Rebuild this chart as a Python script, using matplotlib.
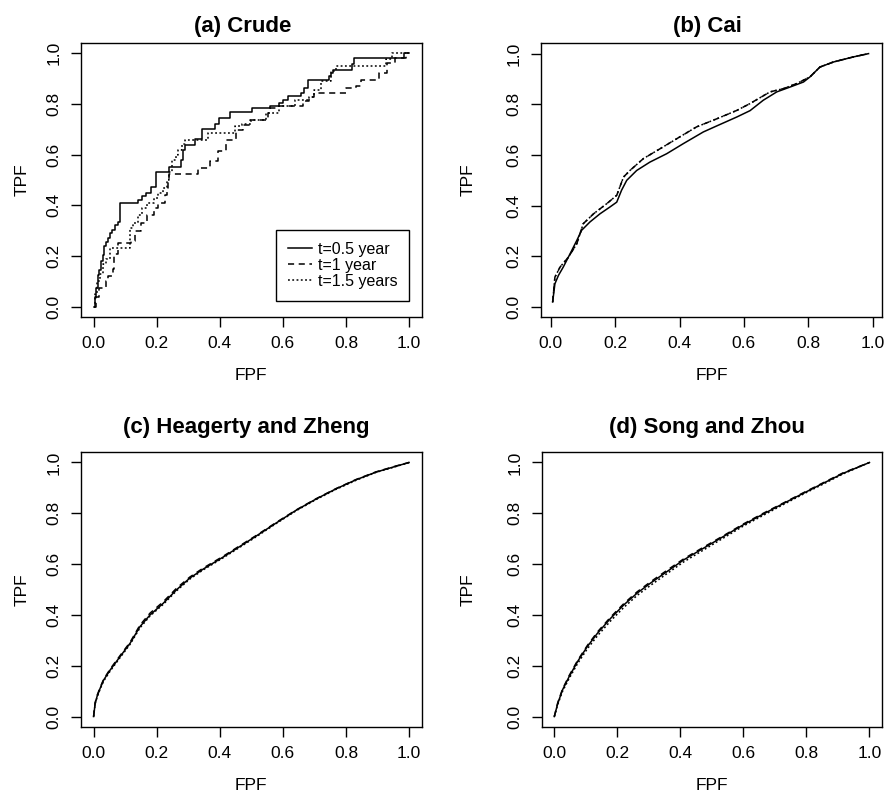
import matplotlib
matplotlib.use('Agg')
import matplotlib.pyplot as plt

plt.rcParams['font.family'] = ['Liberation Sans', 'DejaVu Sans']

# ---- data ----
tick_vals = [0.0, 0.2, 0.4, 0.6, 0.8, 1.0]
tick_labels = ['0.0', '0.2', '0.4', '0.6', '0.8', '1.0']
legend_labels = ['t=0.5 year', 't=1 year', 't=1.5 years']
titles = ['(a) Crude', '(b) Cai', '(c) Heagerty and Zheng', '(d) Song and Zhou']

# (a) crude step ROC curves: (FPF at jump, TPF after jump)
crude_t05_fpf = [0, 0.004, 0.008, 0.013, 0.018, 0.023, 0.029, 0.034, 0.040, 0.046, 0.052, 0.058,
                 0.068, 0.078, 0.083, 0.141, 0.152, 0.167, 0.183, 0.199, 0.240, 0.276, 0.282,
                 0.285, 0.290, 0.321, 0.344, 0.386, 0.398, 0.432, 0.503, 0.558, 0.589, 0.600,
                 0.616, 0.658, 0.668, 0.681, 0.747, 0.752, 0.758, 0.818, 0.827, 0.984, 1.0]
crude_t05_tpf = [0, 0.040, 0.074, 0.126, 0.146, 0.179, 0.205, 0.238, 0.257, 0.271, 0.290, 0.304,
                 0.323, 0.336, 0.409, 0.422, 0.435, 0.450, 0.471, 0.533, 0.553, 0.579, 0.600,
                 0.619, 0.639, 0.660, 0.699, 0.721, 0.745, 0.769, 0.784, 0.791, 0.804, 0.815,
                 0.830, 0.844, 0.863, 0.896, 0.909, 0.922, 0.935, 0.958, 0.981, 1.0, 1.0]
crude_t1_fpf = [0, 0.008, 0.018, 0.040, 0.045, 0.062, 0.066, 0.078, 0.120, 0.130, 0.150, 0.170,
                0.190, 0.205, 0.225, 0.232, 0.236, 0.240, 0.332, 0.368, 0.395, 0.421, 0.453,
                0.474, 0.495, 0.553, 0.558, 0.589, 0.663, 0.684, 0.700, 0.800, 0.832, 0.847,
                0.905, 0.930, 0.955, 0.990, 1.0]
crude_t1_tpf = [0, 0.040, 0.074, 0.100, 0.120, 0.148, 0.207, 0.250, 0.260, 0.300, 0.330, 0.360,
                0.390, 0.410, 0.440, 0.470, 0.500, 0.525, 0.547, 0.573, 0.613, 0.659, 0.698,
                0.718, 0.738, 0.764, 0.783, 0.790, 0.810, 0.829, 0.842, 0.862, 0.869, 0.895,
                0.921, 0.961, 0.980, 1.0, 1.0]
crude_t15_fpf = [0, 0.005, 0.012, 0.020, 0.030, 0.040, 0.052, 0.115, 0.125, 0.140, 0.155, 0.170,
                 0.190, 0.205, 0.220, 0.232, 0.240, 0.248, 0.260, 0.268, 0.280, 0.290, 0.363,
                 0.447, 0.470, 0.500, 0.547, 0.589, 0.637, 0.684, 0.700, 0.720, 0.753, 0.768,
                 0.926, 0.947, 1.0]
crude_t15_tpf = [0, 0.050, 0.100, 0.130, 0.170, 0.190, 0.232, 0.310, 0.330, 0.360, 0.390, 0.410,
                 0.430, 0.450, 0.470, 0.500, 0.530, 0.579, 0.600, 0.619, 0.640, 0.659, 0.685,
                 0.711, 0.720, 0.735, 0.764, 0.790, 0.815, 0.829, 0.856, 0.890, 0.928, 0.949,
                 0.975, 1.0, 1.0]

# (b) Cai
cai_t05_fpf = [0.006, 0.013, 0.024, 0.039, 0.060, 0.081, 0.096, 0.122, 0.153, 0.184, 0.205, 0.220,
               0.236, 0.267, 0.308, 0.360, 0.412, 0.474, 0.516, 0.578, 0.619, 0.660, 0.702, 0.743,
               0.785, 0.805, 0.836, 0.878, 0.940, 0.987]
cai_t05_tpf = [0.020, 0.092, 0.125, 0.158, 0.210, 0.263, 0.303, 0.336, 0.368, 0.395, 0.414, 0.461,
               0.500, 0.539, 0.572, 0.605, 0.645, 0.691, 0.715, 0.750, 0.775, 0.816, 0.849, 0.868,
               0.888, 0.908, 0.947, 0.967, 0.987, 1.0]
cai_t1_fpf = [0.006, 0.013, 0.029, 0.055, 0.081, 0.101, 0.133, 0.174, 0.205, 0.226, 0.246, 0.288,
              0.340, 0.391, 0.453, 0.516, 0.578, 0.619, 0.681, 0.723, 0.764, 0.805, 0.836, 0.878,
              0.940, 0.987]
cai_t1_tpf = [0.020, 0.118, 0.158, 0.197, 0.250, 0.329, 0.368, 0.408, 0.441, 0.513, 0.539, 0.586,
              0.625, 0.664, 0.711, 0.743, 0.776, 0.803, 0.849, 0.862, 0.882, 0.908, 0.947, 0.967,
              0.987, 1.0]
# t=1.5 lies on top of the t=1 curve in this panel
cai_t15_fpf = cai_t1_fpf
cai_t15_tpf = cai_t1_tpf

# (c) Heagerty and Zheng
hz_fpf = [0, 0.005, 0.011, 0.021, 0.032, 0.053, 0.084, 0.116, 0.147, 0.179, 0.221, 0.263, 0.305,
          0.347, 0.411, 0.453, 0.516, 0.579, 0.642, 0.705, 0.768, 0.832, 0.895, 0.958, 1.0]
hz_t05 = [0, 0.052, 0.079, 0.112, 0.144, 0.184, 0.236, 0.289, 0.354, 0.400, 0.446, 0.499, 0.545,
          0.580, 0.628, 0.661, 0.711, 0.762, 0.812, 0.856, 0.896, 0.932, 0.962, 0.985, 1.0]
hz_t1 = [0, 0.055, 0.083, 0.115, 0.147, 0.188, 0.240, 0.293, 0.360, 0.407, 0.452, 0.505, 0.549,
         0.584, 0.631, 0.664, 0.713, 0.764, 0.813, 0.857, 0.897, 0.933, 0.963, 0.986, 1.0]
hz_t15 = [0, 0.050, 0.076, 0.109, 0.140, 0.180, 0.232, 0.285, 0.349, 0.396, 0.442, 0.495, 0.541,
          0.577, 0.625, 0.658, 0.708, 0.760, 0.810, 0.854, 0.894, 0.930, 0.961, 0.984, 1.0]

# (d) Song and Zhou
sz_fpf = [0, 0.011, 0.026, 0.047, 0.074, 0.105, 0.137, 0.179, 0.221, 0.263, 0.305, 0.358, 0.411,
          0.474, 0.537, 0.600, 0.663, 0.726, 0.789, 0.853, 0.916, 1.0]
sz_t05 = [0, 0.052, 0.105, 0.157, 0.217, 0.276, 0.328, 0.387, 0.440, 0.486, 0.525, 0.571, 0.617,
          0.663, 0.709, 0.755, 0.797, 0.838, 0.878, 0.918, 0.957, 1.0]
sz_t1 = [0, 0.055, 0.108, 0.161, 0.221, 0.280, 0.333, 0.392, 0.445, 0.491, 0.530, 0.576, 0.621,
         0.667, 0.712, 0.758, 0.800, 0.840, 0.880, 0.920, 0.959, 1.0]
sz_t15 = [0, 0.048, 0.099, 0.150, 0.209, 0.267, 0.318, 0.377, 0.430, 0.477, 0.516, 0.563, 0.609,
          0.656, 0.703, 0.750, 0.792, 0.834, 0.875, 0.915, 0.955, 1.0]

# ---- styling ----
LW = 1.1
styles = [dict(color='black', lw=LW, ls='-'),
          dict(color='black', lw=LW, dashes=(4, 3)),
          dict(color='black', lw=LW, dashes=(1.2, 1.6))]

fig = plt.figure(figsize=(8.84, 7.93), dpi=100)

# axes boxes in figure fractions
boxes = [[0.0916, 0.6003, 0.3854, 0.3455],
         [0.6117, 0.6003, 0.3861, 0.3455],
         [0.0916, 0.0836, 0.3854, 0.3460],
         [0.6128, 0.0836, 0.3850, 0.3460]]
xlims = [(-0.04, 1.04), (-0.031, 1.029), (-0.04, 1.04), (-0.04, 1.04)]
ylims = [(-0.04, 1.04), (-0.039, 1.042), (-0.04, 1.04), (-0.04, 1.04)]
title_x = [0.474, 0.488, 0.484, 0.486]
title_pad = [8, 8, 14, 14]
ylabel_x = [-0.173, -0.213, -0.173, -0.216]

axes = [fig.add_axes(b) for b in boxes]

# (a) step curves
ax = axes[0]
ax.plot(crude_t05_fpf, crude_t05_tpf, drawstyle='steps-post', label=legend_labels[0], **styles[0])
ax.plot(crude_t1_fpf, crude_t1_tpf, drawstyle='steps-post', label=legend_labels[1], **styles[1])
ax.plot(crude_t15_fpf, crude_t15_tpf, drawstyle='steps-post', label=legend_labels[2], **styles[2])
leg = ax.legend(loc='lower right', bbox_to_anchor=(0.9636, 0.0595), borderaxespad=0,
                fontsize=11.5, handlelength=1.5, handletextpad=0.35, labelspacing=0.05,
                borderpad=0.75, fancybox=False, framealpha=1, edgecolor='black')
leg.get_frame().set_linewidth(1.0)

# (b)
ax = axes[1]
ax.plot(cai_t05_fpf, cai_t05_tpf, **styles[0])
ax.plot(cai_t1_fpf, cai_t1_tpf, **styles[1])
ax.plot(cai_t15_fpf, cai_t15_tpf, **styles[2])

# (c)
ax = axes[2]
ax.plot(hz_fpf, hz_t05, **styles[0])
ax.plot(hz_fpf, hz_t1, **styles[1])
ax.plot(hz_fpf, hz_t15, **styles[2])

# (d)
ax = axes[3]
ax.plot(sz_fpf, sz_t05, **styles[0])
ax.plot(sz_fpf, sz_t1, **styles[1])
ax.plot(sz_fpf, sz_t15, **styles[2])

for i, ax in enumerate(axes):
    ax.set_xlim(*xlims[i])
    ax.set_ylim(*ylims[i])
    ax.set_xticks(tick_vals)
    ax.set_xticklabels(tick_labels)
    ax.set_yticks(tick_vals)
    ax.set_yticklabels(tick_labels, rotation=90, va='center')
    ax.tick_params(labelsize=12.5, length=7, width=1.0, pad=7, colors='black')
    for s in ax.spines.values():
        s.set_linewidth(1.0)
    ax.set_title(titles[i], fontsize=16, fontweight='bold', pad=title_pad[i], x=title_x[i])
    ax.set_xlabel('FPF', fontsize=12.5, va='center')
    ax.xaxis.set_label_coords(0.5, -0.215)
    ax.set_ylabel('TPF', fontsize=12.5, va='center')
    ax.yaxis.set_label_coords(ylabel_x[i], 0.5)

fig.savefig('out.png', dpi=100, facecolor='white')
